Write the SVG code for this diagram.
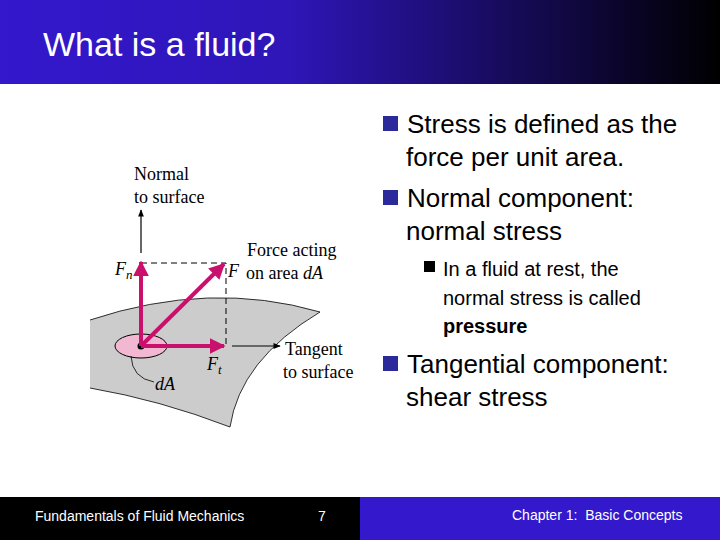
<svg xmlns="http://www.w3.org/2000/svg" width="720" height="540" viewBox="0 0 720 540">
<defs>
<linearGradient id="tg" x1="0" x2="1" y1="0" y2="0"><stop offset="0" stop-color="#3318cc"/><stop offset="0.4" stop-color="#2e16b8"/><stop offset="1" stop-color="#000"/></linearGradient>
<marker id="ma" viewBox="0 0 10 10" refX="9" refY="5" markerWidth="4" markerHeight="4" orient="auto" markerUnits="strokeWidth"><path d="M0,0L10,5L0,10Z" fill="#c8106c"/></marker>
<marker id="mb" viewBox="0 0 10 10" refX="9" refY="5" markerWidth="8" markerHeight="6" orient="auto" markerUnits="strokeWidth"><path d="M0,1L10,5L0,9Z" fill="#000"/></marker>
<style>
.b{font-family:"Liberation Sans",Arial,sans-serif;font-size:26px;fill:#000}
.s{font-family:"Liberation Sans",Arial,sans-serif;font-size:20px;fill:#000}
.f{font-family:"Liberation Serif","Times New Roman",serif;font-size:18px;fill:#000}
.m{stroke:#c8106c;stroke-width:4;fill:none;marker-end:url(#ma)}
.k{stroke:#000;stroke-width:1.2;fill:none;marker-end:url(#mb)}
.ft{font-family:"Liberation Sans",Arial,sans-serif;font-size:14px;fill:#fff}
</style>
</defs>
<rect width="720" height="540" fill="#fff"/>
<g id="title"><rect x="0" y="0" width="720" height="84" fill="url(#tg)"/><text x="43" y="56" font-family="Liberation Sans,Arial,sans-serif" font-size="34" fill="#fff">What is a fluid?</text></g>
<g id="surface"><path d="M90,320 Q210,280 320,312 Q240,360 230,427 Q160,400 90,388" fill="#cccccc" stroke="#000" stroke-width="0.8"/>
<ellipse cx="141" cy="346" rx="26" ry="12" fill="#f2b8d2" stroke="#000" stroke-width="1"/>
<circle cx="141" cy="346" r="3.5" fill="#000"/>
<path d="M131,356 Q132,378 154,382" fill="none" stroke="#000" stroke-width="0.8"/></g>
<g id="connectors">
<path d="M141,263H226V345" fill="none" stroke="#000" stroke-width="1" stroke-dasharray="6,4"/>
<path class="k" d="M141,253V210"/>
<path class="k" d="M232,346H280"/>
<path class="m" d="M141,346V262"/>
<path class="m" d="M141,346L224,264"/>
<path class="m" d="M141,346H224"/>
</g>
<g id="labels">
<text class="f" x="134" y="180">Normal</text><text class="f" x="134" y="203">to surface</text>
<text class="f" x="247" y="256">Force acting</text><text class="f" x="246" y="279">on area <tspan font-style="italic">dA</tspan></text>
<text class="f" x="228" y="277" font-style="italic">F</text>
<text class="f" x="115" y="275" font-style="italic">F<tspan font-size="13" dy="4">n</tspan></text>
<text class="f" x="207" y="370" font-style="italic">F<tspan font-size="13" dy="4">t</tspan></text>
<text class="f" x="285" y="355">Tangent</text><text class="f" x="283" y="378">to surface</text>
<text class="f" x="155" y="390" font-style="italic">dA</text>
</g>
<g id="bullets">
<rect x="383" y="116" width="15" height="15" fill="#2a2a9a"/>
<text class="b" x="407" y="133">Stress is defined as the</text><text class="b" x="406" y="166">force per unit area.</text>
<rect x="383" y="190" width="15" height="15" fill="#2a2a9a"/>
<text class="b" x="407" y="207">Normal component:</text><text class="b" x="406" y="240">normal stress</text>
<rect x="424" y="261" width="11" height="11" fill="#000"/>
<text class="s" x="443" y="276">In a fluid at rest, the</text><text class="s" x="443" y="305">normal stress is called</text><text class="s" x="443" y="333" font-weight="bold">pressure</text>
<rect x="383" y="356" width="15" height="15" fill="#2a2a9a"/>
<text class="b" x="407" y="373">Tangential component:</text><text class="b" x="406" y="406">shear stress</text>
</g>
<g id="footer"><rect x="0" y="497" width="360" height="43" fill="#000"/><rect x="360" y="497" width="360" height="43" fill="#3318cc"/>
<text class="ft" x="35" y="521">Fundamentals of Fluid Mechanics</text><text class="ft" x="318" y="521">7</text><text class="ft" x="512" y="520" xml:space="preserve">Chapter 1:  Basic Concepts</text></g>
</svg>
